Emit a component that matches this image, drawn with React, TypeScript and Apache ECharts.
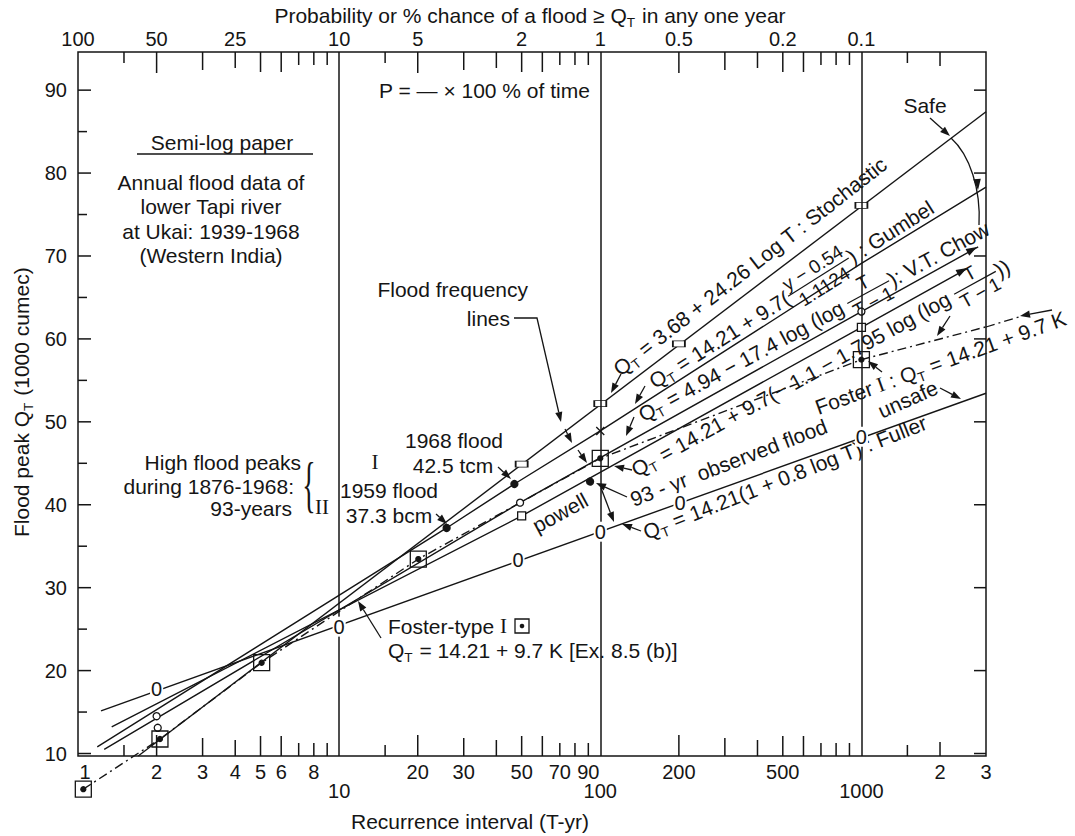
import React, { useEffect, useRef } from 'react';
import * as echarts from 'echarts';

const INK = '#151515';
const FONT = "'Liberation Sans', Arial, Helvetica, sans-serif";
const SERIF = "'Liberation Serif', 'Times New Roman', serif";
const FS = 21;

// axis extents (recurrence interval T in years, flood peak Q in 1000 cumec)
const T_MIN = 1;
const T_MAX = 3000;
const Q_MIN = 9.7;
const Q_MAX = 94.6;

// tick marks along the recurrence-interval axes (value, tick length)
const xTickT = [1.5, 2, 3, 4, 5, 6, 7, 8, 9, 15, 20, 30, 40, 50, 60, 70, 80, 90, 200, 300, 400, 500, 600, 700, 800, 900, 1500, 2000];
const xTickLen = [11, 21, 18, 16, 20, 20, 13, 13, 13, 11, 21, 18, 16, 20, 20, 13, 13, 13, 21, 18, 16, 20, 20, 13, 13, 13, 11, 14];
const gridT = [10, 100, 1000];

// bottom labels (two rows) and top probability labels
const bottomT1 = [1, 2, 3, 4, 5, 6, 8, 20, 30, 50, 70, 90, 200, 500, 2000, 3000];
const bottomText1 = ['1', '2', '3', '4', '5', '6', '8', '20', '30', '50', '70', '90', '200', '500', '2', '3'];
const bottomT2 = [10, 100, 1000];
const bottomText2 = ['10', '100', '1000'];
const topT = [1, 2, 4, 10, 20, 50, 100, 200, 500, 1000];
const topText = ['100', '50', '25', '10', '5', '2', '1', '0.5', '0.2', '0.1'];

// y ticks
const yMajor = [10, 20, 30, 40, 50, 60, 70, 80, 90];
const yMinor = [15, 25, 35, 45, 55, 65, 75, 85];

// frequency lines [T, Q]
const stochasticLine = [[1.7, 9.7], [3000, 87.4]];
const stochasticMarks = [[50, 44.9], [100, 52.2], [200, 59.4], [1000, 76.1]];
const gumbelLine = [[1.185, 10.8], [25.8, 37.2], [46.9, 42.5], [100, 48.9], [1000, 69.1], [3000, 78.3]];
const gumbelMarks = [[100, 48.9]];
const chowLine = [[1.26, 10.5], [49.3, 40.25], [1000, 63.3], [2800, 71.1]];
const chowMarks = [[2, 14.5], [2.02, 13.1], [49.3, 40.25], [1000, 63.3]];
const powellLine = [[1.346, 13.2], [50, 38.65], [1000, 61.4], [2550, 68.5]];
const powellMarks = [[50, 38.65], [1000, 61.4]];
const fullerLine = [[1.225, 15.15], [3000, 53.45]];
const fullerMarks = [[2, 17.75], [10, 25.3], [48.4, 33.35], [100, 36.75], [202, 40.2], [1000, 48.2]];
const fosterLine = [[1.048, 5.7], [2.06, 11.75], [5.05, 20.95], [20.1, 33.45], [100, 45.6], [1000, 57.5], [3000, 61.45]];
const fosterMarks = [[1.048, 5.7], [2.06, 11.75], [5.05, 20.95], [20.1, 33.45], [100, 45.6], [1000, 57.5]];
const floodDots = [[46.9, 42.5], [25.8, 37.2], [91.4, 42.8]];

// ---------- helpers ----------
let mctx: CanvasRenderingContext2D | null = null;
function measure(text: string, size: number, family: string = FONT): number {
  if (!mctx) mctx = document.createElement('canvas').getContext('2d');
  if (!mctx) return text.length * size * 0.5;
  mctx.font = `${size}px ${family}`;
  return mctx.measureText(text).width;
}

function txt(x: number, y: number, text: string, size = FS, align = 'left', family = FONT, extra: any = {}) {
  return {
    type: 'text', x, y, silent: true, ...extra,
    style: {
      text, fontSize: size, fontFamily: family, fill: INK,
      align, textAlign: align, verticalAlign: 'middle', textVerticalAlign: 'middle',
    },
  };
}

type Part = string | { sub: string } | { num: string; den: string } | { serif: string };

function partsWidth(parts: Part[], size = FS): number {
  let w = 0;
  for (const p of parts) {
    if (typeof p === 'string') w += measure(p, size);
    else if ('sub' in p) w += measure(p.sub, size * 0.65) + 1;
    else if ('serif' in p) w += measure(p.serif, size, SERIF);
    else w += Math.max(measure(p.num, size * 0.9), measure(p.den, size * 0.9)) + 4;
  }
  return w;
}

function rotLabel(x: number, y: number, deg: number, parts: Part[], size = FS) {
  const children: any[] = [];
  let cx = 0;
  for (const p of parts) {
    if (typeof p === 'string') {
      children.push(txt(cx, 0, p, size));
      cx += measure(p, size);
    } else if ('sub' in p) {
      const s = size * 0.65;
      children.push(txt(cx, 7, p.sub, s));
      cx += measure(p.sub, s) + 1;
    } else if ('serif' in p) {
      children.push(txt(cx, 0, p.serif, size, 'left', SERIF));
      cx += measure(p.serif, size, SERIF);
    } else {
      const s = size * 0.9;
      const w = Math.max(measure(p.num, s), measure(p.den, s)) + 4;
      children.push(txt(cx + w / 2, -11, p.num, s, 'center'));
      children.push({ type: 'line', silent: true, shape: { x1: cx, y1: 0, x2: cx + w, y2: 0 }, style: { stroke: INK, lineWidth: 1.2 } });
      children.push(txt(cx + w / 2, 11, p.den, s, 'center'));
      cx += w;
    }
  }
  return { type: 'group', x, y, rotation: (deg * Math.PI) / 180, silent: true, children };
}

function arrow(pts: number[][], head = 10, hw = 3.6) {
  const n = pts.length;
  const [x2, y2] = pts[n - 1];
  const [x1, y1] = pts[n - 2];
  const dx = x2 - x1, dy = y2 - y1;
  const L = Math.hypot(dx, dy) || 1;
  const ux = dx / L, uy = dy / L;
  const bx = x2 - ux * head, by = y2 - uy * head;
  const shaft = pts.slice(0, n - 1).concat([[bx, by]]);
  return [
    { type: 'polyline', silent: true, shape: { points: shaft }, style: { stroke: INK, lineWidth: 1.3, fill: 'none' } },
    { type: 'polygon', silent: true, shape: { points: [[x2, y2], [bx - uy * hw, by + ux * hw], [bx + uy * hw, by - ux * hw]] }, style: { fill: INK } },
  ];
}

function head(x: number, y: number, deg: number, size = 11, hw = 3.8) {
  const r = (deg * Math.PI) / 180;
  const ux = Math.cos(r), uy = -Math.sin(r);
  return arrow([[x - ux * (size + 1), y - uy * (size + 1)], [x, y]], size, hw).slice(1);
}

function buildGraphics() {
  const els: any[] = [];
  // title
  const titleParts: Part[] = ['Probability or % chance of a flood ≥ Q', { sub: 'T' }, ' in any one year'];
  els.push(rotLabel(530 - partsWidth(titleParts) / 2, 15, 0, titleParts));
  // x axis name
  els.push(txt(470, 821, 'Recurrence interval (T-yr)', FS, 'center'));
  // y axis name
  els.push(rotLabel(21, 537, 90, ['Flood peak Q', { sub: 'T' }, ' (1000 cumec)']));

  // info block
  els.push(txt(222, 142, 'Semi-log paper', FS, 'center'));
  els.push({ type: 'line', silent: true, shape: { x1: 137, y1: 154, x2: 313, y2: 154 }, style: { stroke: INK, lineWidth: 1.3 } });
  els.push(txt(211, 182, 'Annual flood data of', FS, 'center'));
  els.push(txt(211, 206, 'lower Tapi river', FS, 'center'));
  els.push(txt(211, 231, 'at Ukai: 1939-1968', FS, 'center'));
  els.push(txt(211, 255, '(Western India)', FS, 'center'));
  els.push(txt(379, 90, 'P = — × 100 % of time', FS, 'left'));

  // flood frequency lines
  els.push(txt(528, 289, 'Flood frequency', FS, 'right'));
  els.push(txt(510, 318, 'lines', FS, 'right'));
  els.push(...arrow([[514, 318], [537, 318], [561, 422]]));
  els.push(...arrow([[565, 429], [572, 443]]));
  els.push(...arrow([[578, 450], [587, 463]]));

  // high flood peaks
  els.push(txt(301, 462, 'High flood peaks', FS, 'right'));
  els.push(txt(294, 486, 'during 1876-1968:', FS, 'right'));
  els.push(txt(292, 508, '93-years', FS, 'right'));
  els.push(txt(309, 484, '{', 62, 'center', SERIF, { scaleX: 0.45, scaleY: 1 }));
  els.push(txt(375, 462, 'I', 21, 'center', SERIF));
  els.push(txt(322, 507, 'II', 21, 'center', SERIF));
  els.push(txt(454, 440, '1968 flood', FS, 'center'));
  els.push(txt(453, 465, '42.5 tcm', FS, 'center'));
  els.push(...arrow([[498, 467], [511, 479]]));
  els.push(txt(389, 490, '1959 flood', FS, 'center'));
  els.push(txt(389, 515, '37.3 bcm', FS, 'center'));
  els.push(...arrow([[436, 514], [447, 524]]));

  // Foster type note
  els.push(rotLabel(388, 626, 0, ['Foster-type ', { serif: 'I' }]));
  els.push({ type: 'rect', silent: true, shape: { x: 515, y: 619, width: 14, height: 14 }, style: { fill: 'none', stroke: INK, lineWidth: 1.3 } });
  els.push({ type: 'circle', silent: true, shape: { cx: 522, cy: 626, r: 2.3 }, style: { fill: INK } });
  els.push(rotLabel(388, 650, 0, ['Q', { sub: 'T' }, ' = 14.21 + 9.7 K [Ex. 8.5 (b)]']));
  els.push(...arrow([[381, 638], [358, 601]]));

  // rotated line labels
  els.push(rotLabel(616, 371, 38, ['Q', { sub: 'T' }, ' = 3.68 + 24.26 Log T : Stochastic']));
  els.push(...arrow([[621, 374], [611, 393]]));
  els.push(rotLabel(651, 383, 32.3, ['Q', { sub: 'T' }, ' = 14.21 + 9.7(', { num: 'y − 0.54', den: '1.1124' }, ') : Gumbel']));
  els.push(...arrow([[645, 386], [635, 404]]));
  els.push(rotLabel(640, 416, 28.5, ['Q', { sub: 'T' }, ' = 4.94 − 17.4 log (log ', { num: 'T', den: 'T − 1' }, '): V.T. Chow']));
  els.push(...arrow([[634, 417], [626, 436]]));
  els.push(rotLabel(633, 471, 28.8, ['Q', { sub: 'T' }, ' = 14.21 + 9.7(− 1.1 − 1.795 log (log ', { num: 'T', den: 'T − 1' }, '))']));
  els.push(...arrow([[632, 470], [614, 466]]));
  els.push(...arrow([[950, 316], [937, 336]]));
  els.push(rotLabel(816, 408, 20, ['Foster ', { serif: 'I' }, ' : Q', { sub: 'T' }, ' = 14.21 + 9.7 K']));
  els.push(...arrow([[882, 372], [868, 361]]));
  els.push({ type: 'line', silent: true, shape: { x1: 986, y1: 327, x2: 1019, y2: 317 }, style: { stroke: INK, lineWidth: 1.3, lineDash: [9, 4, 2, 4] } });
  els.push(...arrow([[1052, 310], [1020, 316]]));
  els.push(rotLabel(631, 500, 21, ['93 - yr  observed flood']));
  els.push(...arrow([[627, 497], [596, 483]]));
  els.push(...arrow([[601, 488], [614, 522]]));
  els.push(rotLabel(644, 533, 21.5, ['Q', { sub: 'T' }, ' = 14.21(1 + 0.8 log T) : Fuller']));
  els.push(...arrow([[641, 531], [622, 524]]));
  els.push(rotLabel(534, 527, 28.6, ['powell']));
  els.push(rotLabel(879, 412, 24, ['unsafe']));
  els.push(...arrow([[940, 388], [961, 399]]));
  // line-end arrowheads
  els.push(...head(977, 247, 29.2));
  els.push(...head(967, 268, 29));

  // safe
  els.push(txt(925, 105, 'Safe', FS, 'center'));
  els.push(...arrow([[930, 118], [950, 136]]));
  els.push({ type: 'bezierCurve', silent: true, shape: { x1: 951, y1: 138, cpx1: 970, cpy1: 155, cpx2: 981, cpy2: 190, x2: 979, y2: 225 }, style: { stroke: INK, lineWidth: 1.3, fill: 'none' } });
  els.push(...head(978, 190, -85));
  return els;
}

function buildOption() {
  const line = (name: string, data: number[][], extra: any = {}, ls: any = {}) => ({
    type: 'line', name, data, symbol: 'none', silent: true, z: 3,
    ...extra,
    lineStyle: { color: INK, width: 1.4, ...ls },
  });
  const marks = (name: string, data: number[][], symbol: any, size: any, fill: string, extra: any = {}) => ({
    type: 'scatter', name, data, symbol, symbolSize: size, silent: true, z: 4,
    itemStyle: { color: fill, borderColor: INK, borderWidth: 1.3, opacity: 1 },
    ...extra,
  });

  const xTickSeries = {
    type: 'custom', name: 'xticks', coordinateSystem: 'cartesian2d', silent: true, clip: false, z: 5,
    data: xTickT.map((t, i) => [t, xTickLen[i]]),
    encode: { x: 0, y: 1 },
    renderItem: (params: any, api: any) => {
      const t = api.value(0), len = api.value(1);
      const b = api.coord([t, Q_MIN]);
      const tp = api.coord([t, Q_MAX]);
      return {
        type: 'group', children: [
          { type: 'line', shape: { x1: b[0], y1: b[1], x2: b[0], y2: b[1] - len }, style: { stroke: INK, lineWidth: 1.5 } },
          { type: 'line', shape: { x1: tp[0], y1: tp[1], x2: tp[0], y2: tp[1] + len }, style: { stroke: INK, lineWidth: 1.5 } },
        ],
      };
    },
  };
  const yTickData = yMajor.map((q) => [T_MIN, q, 13]).concat(yMinor.map((q) => [T_MIN, q, 9]));
  const yTickSeries = {
    type: 'custom', name: 'yticks', coordinateSystem: 'cartesian2d', silent: true, clip: false, z: 5,
    data: yTickData, encode: { x: 0, y: 1 },
    renderItem: (params: any, api: any) => {
      const q = api.value(1), len = api.value(2);
      const l = api.coord([T_MIN, q]);
      const r = api.coord([T_MAX, q]);
      const ch: any[] = [{ type: 'line', shape: { x1: l[0], y1: l[1], x2: l[0] + len, y2: l[1] }, style: { stroke: INK, lineWidth: 1.5 } }];
      if (len > 10) ch.push({ type: 'line', shape: { x1: r[0], y1: r[1], x2: r[0] - 12, y2: r[1] }, style: { stroke: INK, lineWidth: 1.5 } });
      return { type: 'group', children: ch };
    },
  };
  const textStyle = (text: string, align: string, extra: any = {}) => ({
    text, fill: INK, fontSize: 20, fontFamily: FONT, align, textAlign: align, verticalAlign: 'middle', textVerticalAlign: 'middle', ...extra,
  });
  const labelSeries = (name: string, data: number[][], texts: string[], pos: (p: number[], v: number) => number[], align = 'center', extra: any = {}) => ({
    type: 'custom', name, coordinateSystem: 'cartesian2d', silent: true, clip: false, z: 6,
    data, encode: { x: 0, y: 1 },
    renderItem: (params: any, api: any) => {
      const v = api.value(0), w = api.value(1);
      const p = api.coord([v, w]);
      const [x, y] = pos(p, v);
      return { type: 'text', x, y, style: textStyle(texts[params.dataIndex], align, extra) };
    },
  });

  return {
    animation: false,
    backgroundColor: '#ffffff',
    grid: { left: 78, right: 89, top: 52, bottom: 80, show: true, borderColor: INK, borderWidth: 1.5, backgroundColor: 'rgba(0,0,0,0)' },
    xAxis: { type: 'log', logBase: 10, min: T_MIN, max: T_MAX, show: false },
    yAxis: { type: 'value', min: Q_MIN, max: Q_MAX, show: false },
    graphic: { elements: buildGraphics() },
    series: [
      line('Stochastic', stochasticLine, {
        markLine: {
          silent: true, symbol: ['none', 'none'], label: { show: false },
          lineStyle: { color: INK, width: 1.5, type: 'solid' },
          data: gridT.map((t) => ({ xAxis: t })),
        },
      }),
      line('Gumbel', gumbelLine),
      line('V.T. Chow', chowLine),
      line('Powell', powellLine),
      line('Fuller', fullerLine),
      line('Foster I', fosterLine, { clip: false }, { type: [9, 4, 2, 4] }),
      marks('Stochastic points', stochasticMarks, 'rect', [12, 6], '#fff'),
      marks('Gumbel points', gumbelMarks, 'path://M0,0L10,10M10,0L0,10', 8, 'rgba(0,0,0,0)'),
      marks('Chow points', chowMarks, 'circle', 7, '#fff'),
      marks('Powell points', powellMarks, 'rect', 8, '#fff'),
      marks('Foster squares', fosterMarks, 'rect', 16, 'rgba(0,0,0,0)', { clip: false }),
      marks('Foster centres', fosterMarks, 'circle', 5, INK, { clip: false }),
      marks('Flood peaks', floodDots, 'circle', 7, INK),
      labelSeries('Fuller points', fullerMarks, fullerMarks.map(() => '0'), (p) => [p[0], p[1]], 'center',
        { backgroundColor: '#ffffff', padding: [0, 1], fontSize: 20 }),
      xTickSeries,
      yTickSeries,
      labelSeries('bottom1', bottomT1.map((t) => [t, Q_MIN]), bottomText1, (p, v) => [p[0] + (v === 1 ? 7 : 0), p[1] + 16]),
      labelSeries('bottom2', bottomT2.map((t) => [t, Q_MIN]), bottomText2, (p) => [p[0], p[1] + 35]),
      labelSeries('top', topT.map((t) => [t, Q_MAX]), topText, (p) => [p[0], p[1] - 13]),
      labelSeries('yLabels', yMajor.map((q) => [T_MIN, q]), yMajor.map(String), (p) => [p[0] - 11, p[1]], 'right'),
    ],
  };
}

export default function App() {
  const ref = useRef<HTMLDivElement>(null);
  useEffect(() => {
    if (!ref.current) return;
    const chart = echarts.init(ref.current, null, { renderer: 'svg' });
    chart.setOption(buildOption() as any);
    return () => chart.dispose();
  }, []);
  return <div ref={ref} style={{ position: 'fixed', left: 0, top: 0, width: 1075, height: 836, background: '#fff' }} />;
}
